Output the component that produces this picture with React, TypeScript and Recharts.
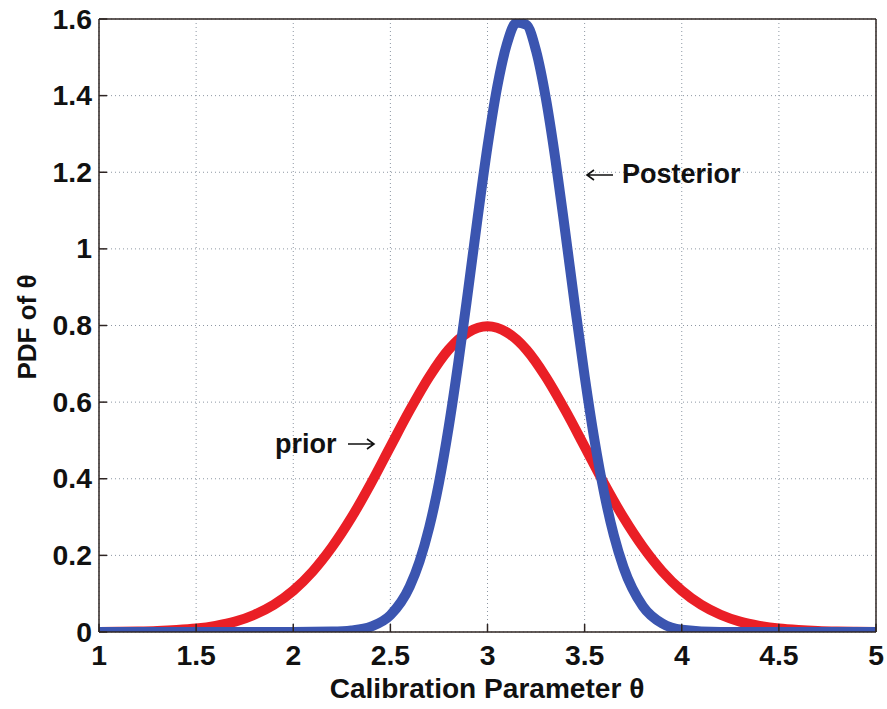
import React from "react";
import { LineChart, Line, XAxis, YAxis, CartesianGrid } from "recharts";

const xTicks = [1, 1.5, 2, 2.5, 3, 3.5, 4, 4.5, 5];
const yTicks = [0, 0.2, 0.4, 0.6, 0.8, 1, 1.2, 1.4, 1.6];

// prior PDF
const priorTheta = [
  1.0, 1.1, 1.2, 1.3, 1.4, 1.5, 1.6, 1.7, 1.8, 1.9, 2.0, 2.1, 2.2, 2.3, 2.4,
  2.5, 2.6, 2.7, 2.8, 2.9, 3.0, 3.1, 3.2, 3.3, 3.4, 3.5, 3.6, 3.7, 3.8, 3.9,
  4.0, 4.1, 4.2, 4.3, 4.4, 4.5, 4.6, 4.7, 4.8, 4.9, 5.0,
];
const priorPdf = [
  0.0003, 0.0006, 0.0012, 0.0025, 0.005, 0.009, 0.016, 0.027, 0.045, 0.071,
  0.108, 0.158, 0.222, 0.299, 0.388, 0.484, 0.579, 0.666, 0.737, 0.782, 0.798,
  0.782, 0.737, 0.666, 0.579, 0.484, 0.388, 0.299, 0.222, 0.158, 0.108, 0.071,
  0.045, 0.027, 0.016, 0.009, 0.005, 0.0025, 0.0012, 0.0006, 0.0003,
];

// posterior PDF
const postTheta = [
  1.0, 1.2, 1.4, 1.6, 1.8, 2.0, 2.2, 2.3, 2.4, 2.5, 2.6, 2.65, 2.7, 2.75, 2.8,
  2.85, 2.9, 2.95, 3.0, 3.05, 3.1, 3.15, 3.2, 3.25, 3.3, 3.35, 3.4, 3.45, 3.5,
  3.55, 3.6, 3.65, 3.7, 3.8, 3.9, 4.0, 4.2, 4.4, 4.6, 4.8, 5.0,
];
const postPdf = [
  0, 0, 0, 0, 0, 0, 0.001, 0.004, 0.014, 0.044, 0.119, 0.184, 0.273, 0.389,
  0.534, 0.704, 0.891, 1.084, 1.267, 1.423, 1.535, 1.591, 1.585, 1.517, 1.394,
  1.232, 1.045, 0.852, 0.668, 0.503, 0.364, 0.253, 0.169, 0.067, 0.022, 0.006,
  0, 0, 0, 0, 0,
];

const priorData = priorTheta.map((x, i) => ({ x, y: priorPdf[i] }));
const postData = postTheta.map((x, i) => ({ x, y: postPdf[i] }));

const FONT = "'Liberation Sans', Arial, Helvetica, sans-serif";
const FRAME = "#2e2422";
const RED = "#ea1f26";
const BLUE = "#3b55b0";

function XTick({ x, y, payload }: any) {
  return (
    <g transform={`translate(${x},${y})`}>
      <text
        transform="scale(1.05,1)"
        textAnchor="middle"
        dy="0.71em"
        fontSize={27}
        fontWeight="bold"
        fontFamily={FONT}
        fill="#111"
      >
        {payload.value}
      </text>
    </g>
  );
}

function YTick({ x, y, payload }: any) {
  return (
    <g transform={`translate(${x},${y})`}>
      <text
        transform="scale(1.05,1)"
        textAnchor="end"
        dy="0.355em"
        fontSize={27}
        fontWeight="bold"
        fontFamily={FONT}
        fill="#111"
      >
        {payload.value}
      </text>
    </g>
  );
}

export default function App() {
  return (
    <div style={{ position: "absolute", left: 0, top: 0, width: 887, height: 709, background: "#fff" }}>
      <LineChart
        width={887}
        height={709}
        margin={{ top: 19, right: 11, bottom: 0, left: 0 }}
      >
        <CartesianGrid
          xAxisId="b"
          yAxisId="l"
          stroke="#8d97a3"
          strokeDasharray="1 3"
        />
        <XAxis
          xAxisId="b"
          dataKey="x"
          type="number"
          domain={[1, 5]}
          ticks={xTicks}
          interval={0}
          allowDataOverflow
          height={77}
          tickSize={-8}
          tickMargin={22}
          tick={<XTick />}
          axisLine={{ stroke: FRAME, strokeWidth: 1.5 }}
          tickLine={{ stroke: FRAME, strokeWidth: 1.5 }}
        />
        <XAxis
          xAxisId="t"
          orientation="top"
          mirror
          type="number"
          domain={[1, 5]}
          ticks={xTicks}
          interval={0}
          tick={false}
          tickSize={8}
          axisLine={{ stroke: FRAME, strokeWidth: 1.5 }}
          tickLine={{ stroke: FRAME, strokeWidth: 1.5 }}
        />
        <YAxis
          yAxisId="l"
          type="number"
          domain={[0, 1.6]}
          ticks={yTicks}
          interval={0}
          allowDataOverflow
          width={99}
          tickSize={-8}
          tickMargin={15}
          tick={<YTick />}
          axisLine={{ stroke: FRAME, strokeWidth: 1.5 }}
          tickLine={{ stroke: FRAME, strokeWidth: 1.5 }}
        />
        <YAxis
          yAxisId="r"
          orientation="right"
          mirror
          type="number"
          domain={[0, 1.6]}
          ticks={yTicks}
          interval={0}
          tick={false}
          tickSize={8}
          axisLine={{ stroke: FRAME, strokeWidth: 1.5 }}
          tickLine={{ stroke: FRAME, strokeWidth: 1.5 }}
        />
        <Line
          data={priorData}
          dataKey="y"
          xAxisId="b"
          yAxisId="l"
          type="monotone"
          stroke={RED}
          strokeWidth={10}
          dot={false}
          isAnimationActive={false}
        />
        <Line
          data={postData}
          dataKey="y"
          xAxisId="b"
          yAxisId="l"
          type="monotone"
          stroke={BLUE}
          strokeWidth={10}
          dot={false}
          isAnimationActive={false}
        />
      </LineChart>
      <svg
        width={887}
        height={709}
        style={{ position: "absolute", left: 0, top: 0, pointerEvents: "none" }}
      >
        <g fontFamily={FONT} fontWeight="bold" fill="#111">
          <text x={275} y={453} fontSize={27}>prior</text>
          <text x={622} y={183} fontSize={27}>Posterior</text>
          <text
            transform="translate(487,698) scale(1.04,1)"
            textAnchor="middle"
            fontSize={27}
          >
            Calibration Parameter θ
          </text>
          <text
            transform="translate(36,327) rotate(-90)"
            textAnchor="middle"
            fontSize={26}
          >
            PDF of θ
          </text>
        </g>
        <g stroke="#111" strokeWidth={1.6} fill="none">
          <path d="M348,444 L374,444 M367,439 L374,444 L367,449" />
          <path d="M587,175 L613,175 M594,170 L587,175 L594,180" />
        </g>
      </svg>
    </div>
  );
}
